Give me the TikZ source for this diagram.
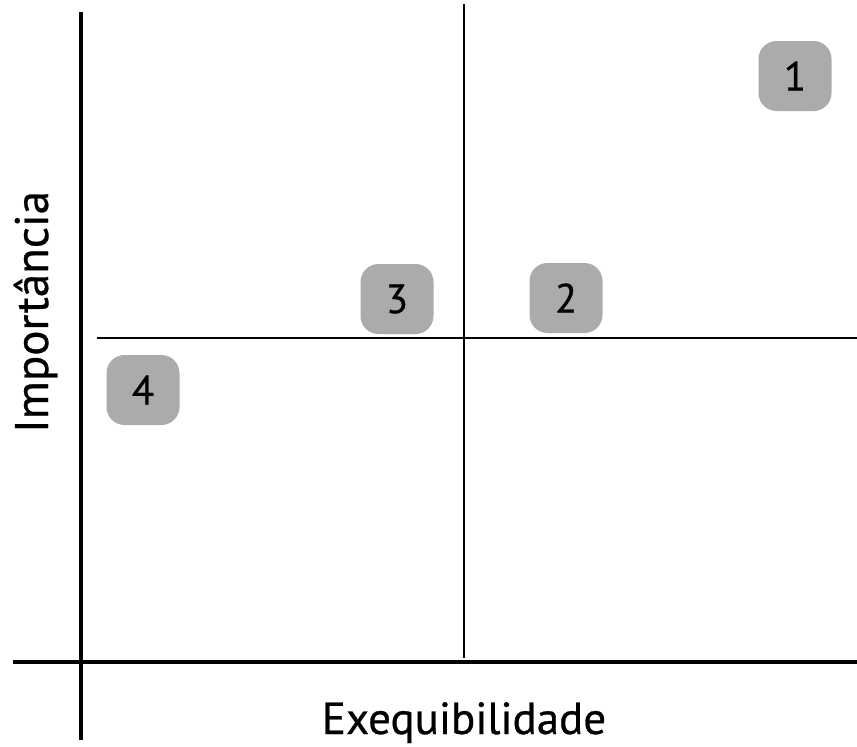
\documentclass[tikz,border=0pt]{standalone}
\usepackage{fontspec}
\setmainfont{PT Sans}[FakeBold=0.6]
\begin{document}
\begin{tikzpicture}[x=1pt,y=-1pt,
  axisline/.style={line width=4pt,black},
  gridline/.style={line width=1.5pt,black},
  numbox/.style={draw=none,fill=black!33,rounded corners=18pt,minimum width=73pt,minimum height=70pt,inner sep=0pt,font=\fontsize{41}{43}\selectfont},
  axislabel/.style={inner sep=0pt}]
\useasboundingbox (0,0) rectangle (857,747);
\coordinate (vtop) at (81,12);
\coordinate (vbot) at (81,740);
\coordinate (hleft) at (13,662);
\coordinate (hright) at (857,662);
\coordinate (mtop) at (464,4);
\coordinate (mbot) at (464,658);
\coordinate (mleft) at (97,338);
\coordinate (mright) at (857,338);
\draw[gridline] (mtop) -- (mbot);
\draw[gridline] (mleft) -- (mright);
\draw[axisline] (vtop) -- (vbot);
\draw[axisline] (hleft) -- (hright);
\node[numbox] (b1) at (795,76) {1};
\node[numbox] (b2) at (566,298) {2};
\node[numbox] (b3) at (397,299) {3};
\node[numbox] (b4) at (143,390) {4};
\node[axislabel,anchor=base,font=\fontsize{45}{47}\selectfont] (xl) at (464,734) {Exequibilidade};
\node[axislabel,anchor=base,rotate=90,font=\fontsize{47}{49}\selectfont] (yl) at (48,312) {Importância};
\end{tikzpicture}
\end{document}
